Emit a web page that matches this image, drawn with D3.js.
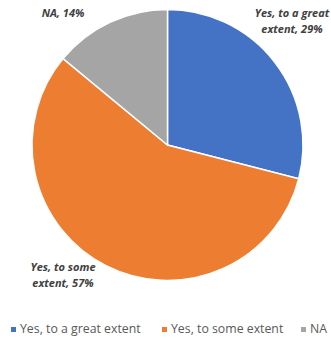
<!DOCTYPE html>
<html>
<head>
<meta charset="utf-8">
<script src="https://cdn.jsdelivr.net/npm/d3@7"></script>
<style>
  body { margin: 0; background: #fff; }
  text { font-family: "Open Sans", "Liberation Sans", sans-serif; }
</style>
</head>
<body>
<div id="chart"></div>
<script>
// data
var categories = ["Yes, to a great extent", "Yes, to some extent", "NA"];
var values = [29, 57, 14];
var colors = ["#4472C4", "#ED7D31", "#A5A5A5"];
var labelLines = [["Yes, to a great", "extent, 29%"], ["Yes, to some", "extent, 57%"], ["NA, 14%"]];

const width = 331, height = 342;
const cx = 167.5, cy = 145, radius = 135.5;

const svg = d3.select("#chart")
  .append("svg")
    .attr("width", width)
    .attr("height", height);

const pie = d3.pie().sort(null).value(function(d) { return d; });
const arc = d3.arc().innerRadius(0).outerRadius(radius);

const g = svg.append("g")
  .attr("transform", `translate(${cx},${cy})`);

const arcs = pie(values);

g.selectAll("path")
  .data(arcs)
  .enter().append("path")
    .attr("d", arc)
    .attr("fill", function(d, i) { return colors[i]; })
    .attr("stroke", "#fff")
    .attr("stroke-width", 1.5);

// data labels, placed outside the pie like the original
var labelPos = [[292, 14], [63, 268], [63, 14]];
labelLines.forEach(function(lines, i) {
  var t = svg.append("text")
    .attr("x", labelPos[i][0])
    .attr("y", labelPos[i][1])
    .attr("text-anchor", "middle")
    .attr("dominant-baseline", "middle")
    .style("font-size", "11px")
    .style("font-weight", "bold")
    .style("font-style", "italic")
    .style("fill", "#404040");
  lines.forEach(function(s, j) {
    t.append("tspan")
      .attr("x", labelPos[i][0])
      .attr("dy", j === 0 ? 0 : 16)
      .text(s);
  });
});

// legend
var legendX = [11, 162, 301];
const legend = svg.append("g");
categories.forEach(function(c, i) {
  legend.append("rect")
    .attr("x", legendX[i])
    .attr("y", 327)
    .attr("width", 5)
    .attr("height", 5)
    .attr("fill", colors[i]);
  legend.append("text")
    .attr("x", legendX[i] + 9)
    .attr("y", 330)
    .attr("dominant-baseline", "middle")
    .style("font-size", "12.3px")
    .style("fill", "#595959")
    .text(c);
});
</script>
</body>
</html>
